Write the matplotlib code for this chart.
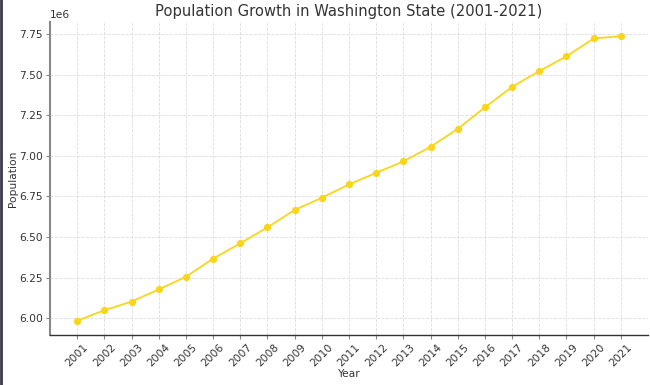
import matplotlib
matplotlib.use("Agg")
import matplotlib.pyplot as plt
from matplotlib.lines import Line2D

years = [2001, 2002, 2003, 2004, 2005, 2006, 2007, 2008, 2009, 2010, 2011,
         2012, 2013, 2014, 2015, 2016, 2017, 2018, 2019, 2020, 2021]
population = [5.984e6, 6.049e6, 6.102e6, 6.177e6, 6.255e6, 6.367e6, 6.461e6,
              6.560e6, 6.667e6, 6.742e6, 6.824e6, 6.896e6, 6.966e6, 7.056e6,
              7.167e6, 7.299e6, 7.426e6, 7.523e6, 7.614e6, 7.724e6, 7.738e6]
year_labels = [str(y) for y in years]

title = "Population Growth in Washington State (2001-2021)"
xlabel = "Year"
ylabel = "Population"

text_color = "#333333"
fig = plt.figure(figsize=(6.5, 3.85), dpi=100)
ax = fig.add_axes([0.0769, 0.1299, 0.9201, 0.8131])

ax.plot(years, population, color="#F9D51C", marker="o", markersize=4.2,
        linewidth=1.3, zorder=3)

ax.set_xticks(years)
ax.set_xticklabels(year_labels, rotation=45, color=text_color, fontsize=7.7)
ax.tick_params(axis="both", colors="#888888", labelcolor=text_color,
               labelsize=7.7, length=2.7, pad=2.5)

ax.grid(True, linestyle="--", color="#dddddd", linewidth=0.6)
ax.set_axisbelow(True)

ax.spines["top"].set_visible(False)
ax.spines["right"].set_visible(False)
ax.spines["left"].set_color("#888888")
ax.spines["left"].set_linewidth(1.5)
ax.spines["bottom"].set_color("#333333")
ax.spines["bottom"].set_linewidth(1.0)

ax.set_title(title, fontsize=10.6, color=text_color, pad=4)
ax.set_xlabel(xlabel, fontsize=7.7, color=text_color)
ax.set_ylabel(ylabel, fontsize=7.7, color=text_color)
ax.xaxis.set_label_coords(0.5, -0.109)
ax.yaxis.set_label_coords(-0.0535, 0.5)
ax.yaxis.get_offset_text().set_color(text_color)
ax.yaxis.get_offset_text().set_fontsize(7.7)

fig.add_artist(Line2D([0.0015, 0.0015], [0, 1], transform=fig.transFigure,
                      color="#3a3a4c", linewidth=2))

fig.savefig("out.png", dpi=100)
